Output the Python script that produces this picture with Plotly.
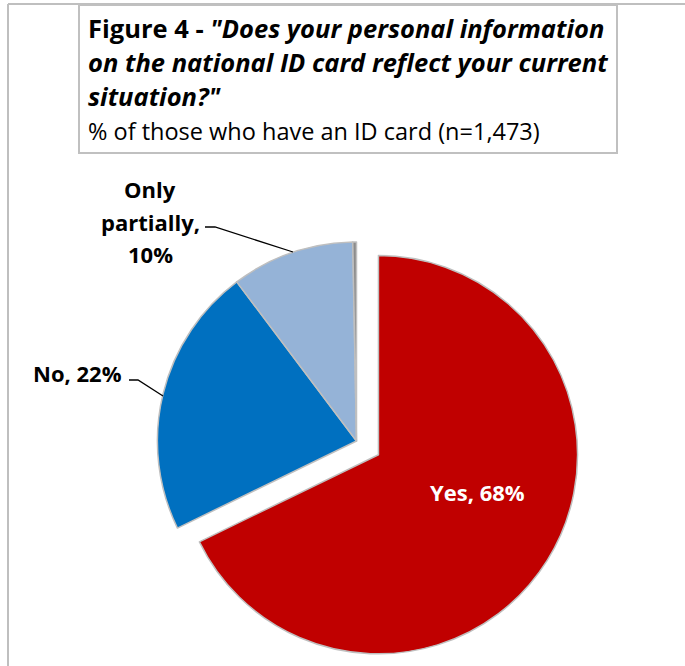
import plotly.graph_objects as go

# Survey answers, in drawing order (clockwise from 12 o'clock)
answers = ["Yes", "No", "Only partially", "Don't know"]
shares = [68, 22, 10, 0.3]
slice_colors = ["#C00000", "#0070C0", "#95B3D7", "#8C8C8C"]
pulls = [0.13, 0, 0, 0]

title_lead = "Figure 4 - "
title_question = ['"Does your personal information',
                  'on the national ID card reflect your current',
                  'situation?"']
subtitle = "% of those who have an ID card (n=1,473)"

W, H = 685, 666
FONT = "Open Sans"


def px(x):
    return x / W


def py(y):
    return 1 - y / H


fig = go.Figure()

fig.add_trace(go.Pie(
    labels=answers,
    values=shares,
    sort=False,
    direction="clockwise",
    rotation=0,
    pull=pulls,
    textinfo="none",
    hoverinfo="label+value",
    marker=dict(colors=slice_colors, line=dict(color="#BFBFBF", width=1.5)),
    domain=dict(x=[px(131), px(582)], y=[py(666), py(216)]),
    showlegend=False,
))

annotations = []
shapes = []

# Title block
title_lines = [f"<b>{title_lead}<i>{title_question[0]}</i></b>",
               f"<b><i>{title_question[1]}</i></b>",
               f"<b><i>{title_question[2]}</i></b>"]
title_y = [28, 62, 96]
for txt, yy in zip(title_lines, title_y):
    annotations.append(dict(text=txt, x=px(86), y=py(yy), xref="paper", yref="paper",
                            xanchor="left", yanchor="middle", showarrow=False,
                            font=dict(family=FONT, size=25.5, color="#000000")))
annotations.append(dict(text=subtitle, x=px(86), y=py(131), xref="paper", yref="paper",
                        xanchor="left", yanchor="middle", showarrow=False,
                        font=dict(family=FONT, size=23.5, color="#000000")))


def slice_label(i):
    return f"{answers[i]}, {shares[i]:g}%"


LABEL_SIZE = 22

# Yes label inside the pulled slice
annotations.append(dict(text=f"<b>{slice_label(0)}</b>", x=px(477), y=py(492),
                        xref="paper", yref="paper", xanchor="center", yanchor="middle",
                        showarrow=False, font=dict(family=FONT, size=LABEL_SIZE, color="#FFFFFF")))

# No label, outside left
annotations.append(dict(text=f"<b>{slice_label(1)}</b>", x=px(124), y=py(373),
                        xref="paper", yref="paper", xanchor="right", yanchor="middle",
                        showarrow=False, font=dict(family=FONT, size=LABEL_SIZE, color="#000000")))

# Only partially label, stacked over three lines
partial_words = slice_label(2).split(" ")
partial_lines = [partial_words[0], partial_words[1], partial_words[2]]
for txt, yy in zip(partial_lines, [189, 222, 254]):
    annotations.append(dict(text=f"<b>{txt}</b>", x=px(150), y=py(yy),
                            xref="paper", yref="paper", xanchor="center", yanchor="middle",
                            showarrow=False, font=dict(family=FONT, size=LABEL_SIZE, color="#000000")))

# Leader lines
def leader(points):
    d = "M " + " L ".join(f"{px(x)},{py(y)}" for x, y in points)
    return dict(type="path", path=d, xref="paper", yref="paper",
                line=dict(color="#000000", width=1.3))


shapes.append(leader([(205, 227), (215, 227), (293, 252)]))
shapes.append(leader([(129, 380), (138, 380), (163, 396)]))

# Outer frame (top and left edges) and title box
frame = dict(color="#BFBFBF", width=2)
shapes.append(dict(type="line", xref="paper", yref="paper", x0=px(8), x1=1, y0=py(4), y1=py(4), line=frame))
shapes.append(dict(type="line", xref="paper", yref="paper", x0=px(8), x1=px(8), y0=py(4), y1=0, line=frame))
shapes.append(dict(type="rect", xref="paper", yref="paper", x0=px(79), x1=px(617), y0=py(5), y1=py(153),
                   line=dict(color="#C0C0C0", width=2), fillcolor="rgba(0,0,0,0)"))

fig.update_layout(
    width=W, height=H,
    margin=dict(l=0, r=0, t=0, b=0),
    paper_bgcolor="#FFFFFF",
    plot_bgcolor="#FFFFFF",
    annotations=annotations,
    shapes=shapes,
)

fig.write_html("out.html")
